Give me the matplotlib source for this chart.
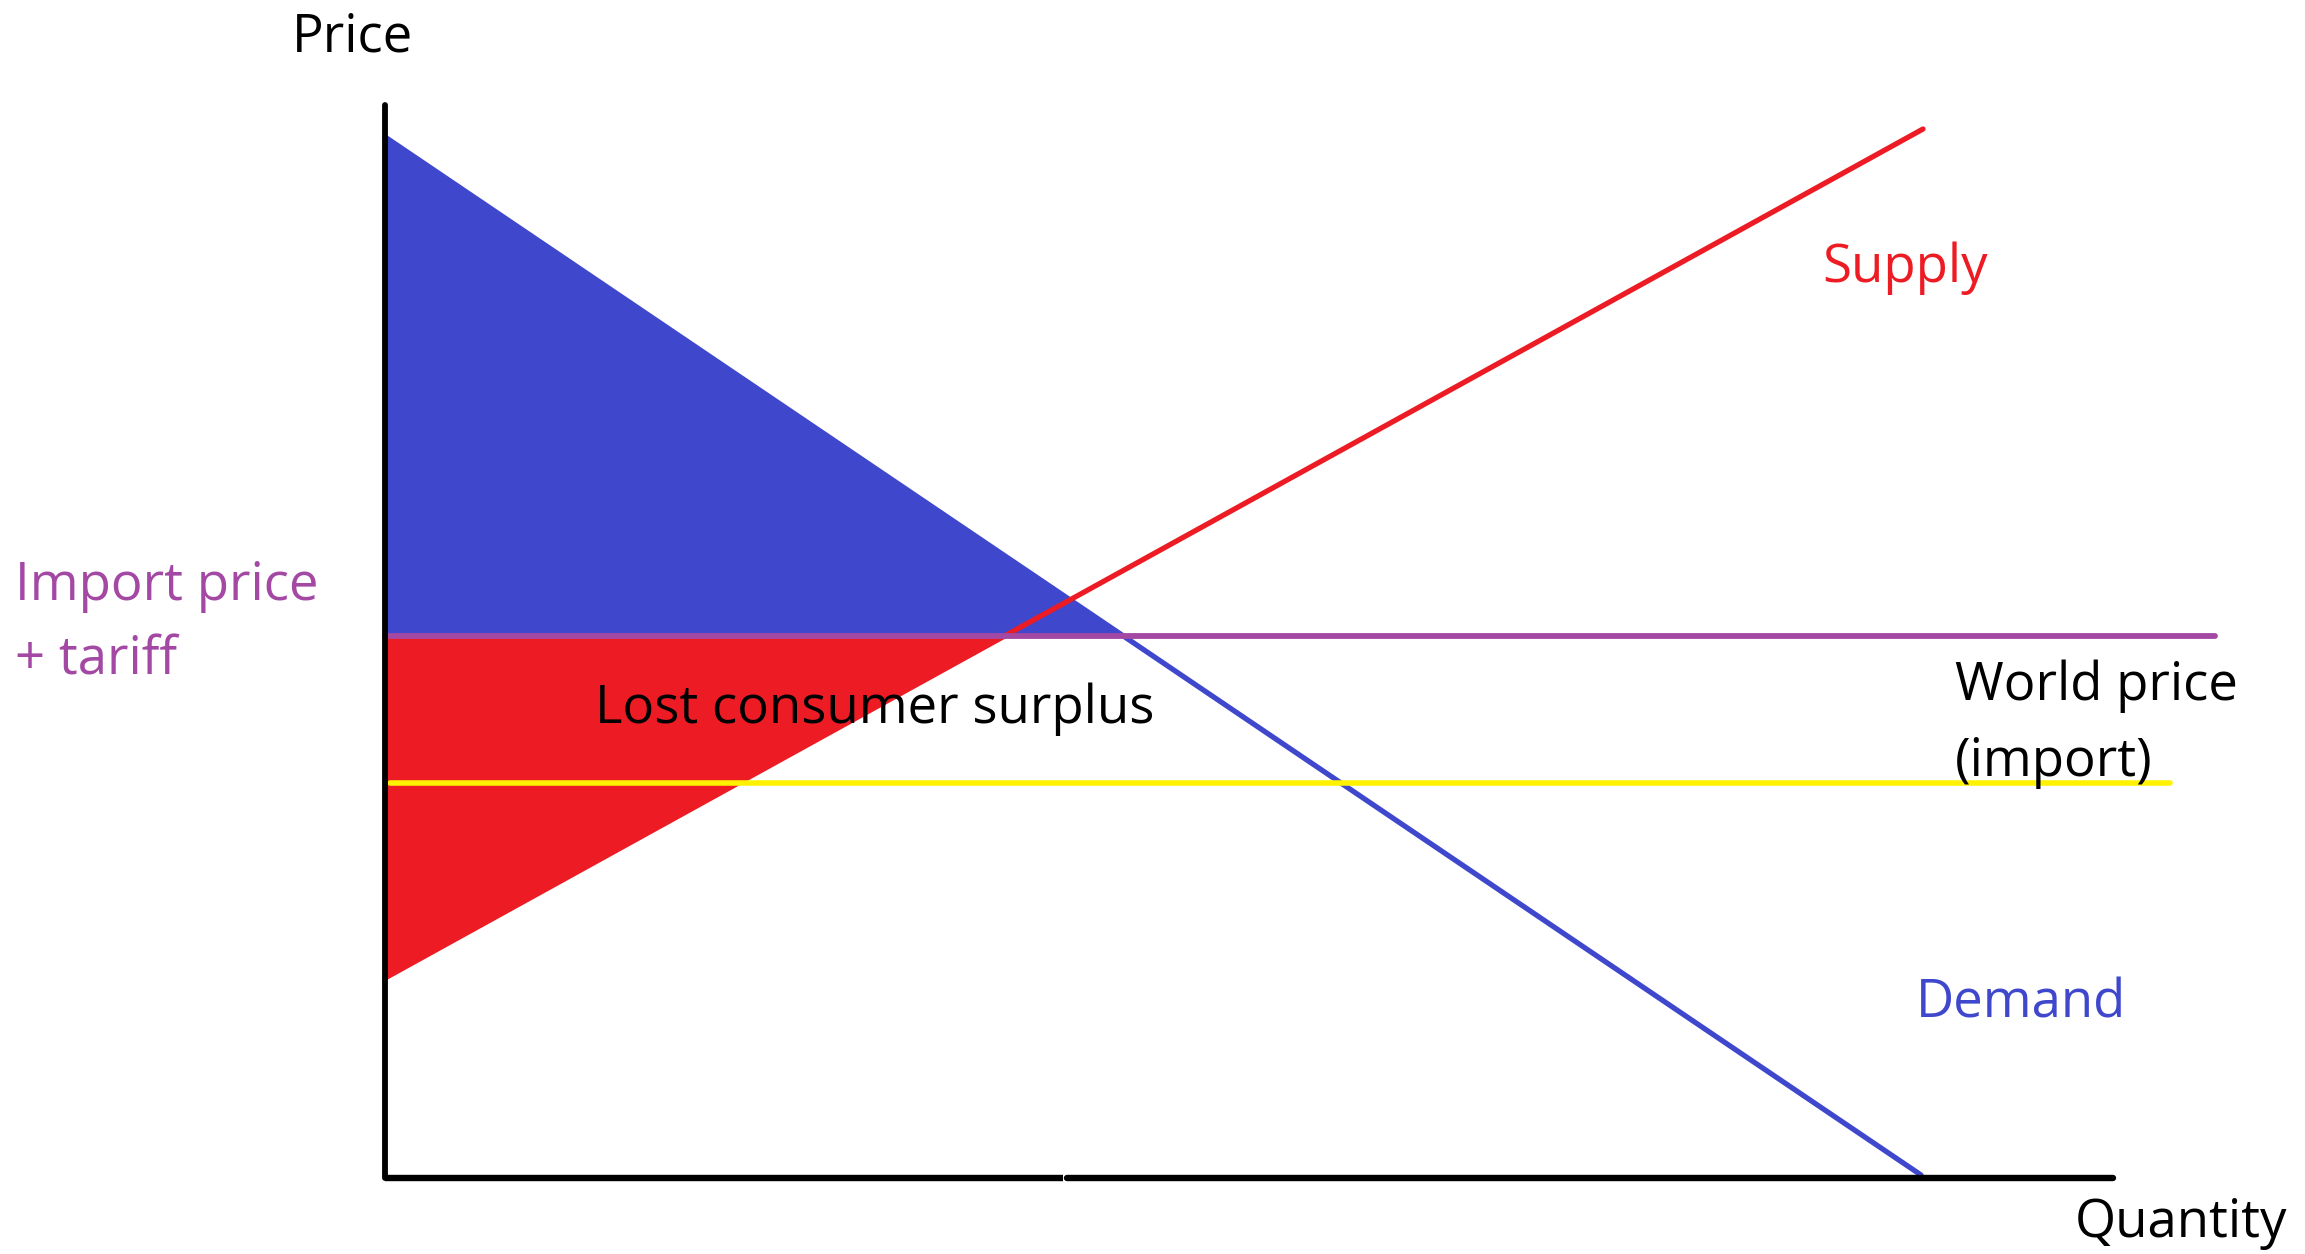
import numpy as np
import matplotlib
matplotlib.use("Agg")
import matplotlib.pyplot as plt

# ---- data (quantity, price units) ----
demand_q = [0.0, 153.6]
demand_p = [104.1, 0.3]
supply_q = [0.0, 153.8]
supply_p = [20.0, 104.9]
tariff_price = 54.2          # import price + tariff
tariff_q_end = 183.0
world_price = 39.5           # world price (import)
world_q_range = [0.5, 178.5]
x_axis_end = 172.8
y_axis_top = 107.3
x_axis_gap = [67.8, 68.2]

labels = {
    "price": "Price",
    "quantity": "Quantity",
    "supply": "Supply",
    "demand": "Demand",
    "tariff": ["Import price", "+ tariff"],
    "world": ["World price", "(import)"],
    "lost": "Lost consumer surplus",
}

BLUE = "#3F48CC"
RED = "#ED1C24"
YELLOW = "#FFF200"
PURPLE = "#A349A4"

plt.rcParams["font.family"] = ["Open Sans", "DejaVu Sans"]

fig = plt.figure(figsize=(23.05, 12.54), dpi=100)
ax = fig.add_axes([0, 0, 1, 1])
ax.set_xlim(-38.5, 192.0)
ax.set_ylim(-7.6, 117.8)
ax.axis("off")

def demand(q):
    return np.interp(q, demand_q, demand_p)

def supply(q):
    return np.interp(q, supply_q, supply_p)

# intersections with the tariff price
qd = np.interp(tariff_price, demand_p[::-1], demand_q[::-1])
qs = np.interp(tariff_price, supply_p, supply_q)

qb = np.linspace(0, qd, 400)
ax.fill_between(qb, tariff_price, demand(qb), color=BLUE, lw=0, zorder=1)
qr = np.linspace(0, qs, 400)
ax.fill_between(qr, supply(qr), tariff_price, color=RED, lw=0, zorder=1)

lw_curve = 3.8
ax.plot(demand_q, demand_p, color=BLUE, lw=lw_curve, solid_capstyle="round", zorder=3)
ax.plot(supply_q, supply_p, color=RED, lw=lw_curve, solid_capstyle="round", zorder=3)
ax.plot(world_q_range, [world_price, world_price], color=YELLOW, lw=4.0,
        solid_capstyle="round", zorder=4)
ax.plot([0, tariff_q_end], [tariff_price, tariff_price], color=PURPLE, lw=4.2,
        solid_capstyle="round", zorder=5)

# axes lines
ax.plot([0, 0], [0, y_axis_top], color="black", lw=4.2, solid_capstyle="round", zorder=6)
ax.plot([0, x_axis_gap[0]], [0, 0], color="black", lw=4.6, solid_capstyle="butt", zorder=6)
ax.plot([x_axis_gap[1], x_axis_end], [0, 0], color="black", lw=4.6, solid_capstyle="round", zorder=6)

fs = 38
ax.text(-9.3, 112.6, labels["price"], fontsize=fs, color="black", ha="left", va="baseline")
ax.text(169.0, -5.9, labels["quantity"], fontsize=fs, color="black", ha="left", va="baseline")
ax.text(143.7, 89.6, labels["supply"], fontsize=fs, color=RED, ha="left", va="baseline")
ax.text(153.1, 16.0, labels["demand"], fontsize=fs, color=BLUE, ha="left", va="baseline")
ax.text(-37.0, 57.8, labels["tariff"][0], fontsize=fs, color=PURPLE, ha="left", va="baseline")
ax.text(-37.0, 50.3, labels["tariff"][1], fontsize=fs, color=PURPLE, ha="left", va="baseline")
ax.text(157.0, 47.8, labels["world"][0], fontsize=fs, color="black", ha="left", va="baseline", zorder=7)
ax.text(157.0, 40.2, labels["world"][1], fontsize=fs, color="black", ha="left", va="baseline", zorder=7)
ax.text(21.0, 45.5, labels["lost"], fontsize=fs, color="black", ha="left", va="baseline", zorder=7)

fig.savefig("out.png", dpi=100, facecolor="white")
